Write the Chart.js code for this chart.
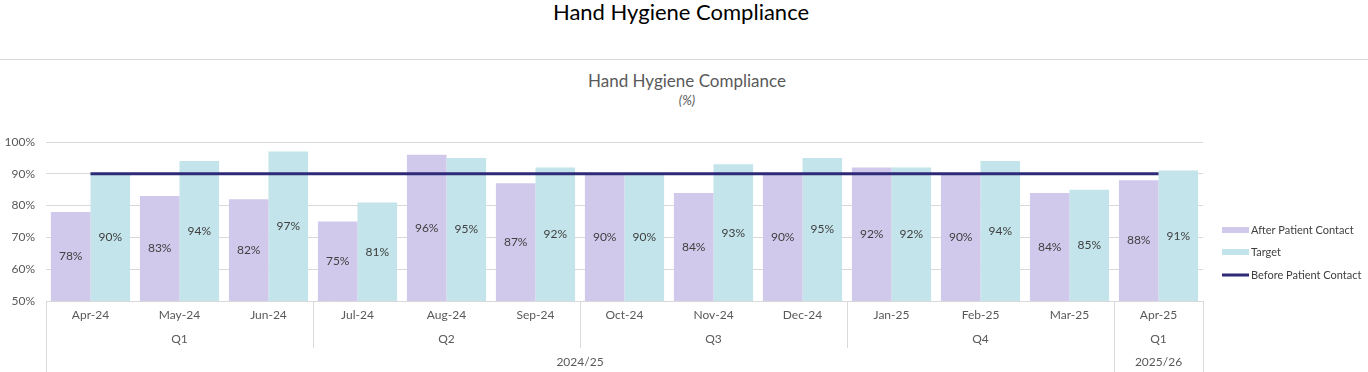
<!DOCTYPE html>
<html>
<head>
<meta charset="utf-8">
<script src="https://cdn.jsdelivr.net/npm/chart.js@4.4.1/dist/chart.umd.min.js"></script>
<style>
  html, body { margin: 0; padding: 0; background: #fff; }
  body { width: 1368px; height: 372px; position: relative; overflow: hidden; font-family: Lato, "Open Sans", sans-serif; }
  #pageTitle { position: absolute; top: -2px; left: 0; width: 1362px; text-align: center; font-size: 22px; color: #000; }
  #rule { position: absolute; top: 59px; left: 0; width: 1368px; height: 1px; background: #d9d9d9; }
  #chartTitle { position: absolute; top: 70px; left: 0; width: 1374px; text-align: center; font-size: 17px; color: #595959; }
  #chartSub { position: absolute; top: 92px; left: 0; width: 1374px; text-align: center; font-size: 13px; font-style: italic; color: #595959; }
  canvas { position: absolute; top: 0; left: 0; }
</style>
</head>
<body>
<div id="pageTitle">Hand Hygiene Compliance</div>
<div id="rule"></div>
<div id="chartTitle">Hand Hygiene Compliance</div>
<div id="chartSub">(%)</div>
<canvas id="hhChart" width="1368" height="372"></canvas>
<script>
const months = ['Apr-24', 'May-24', 'Jun-24', 'Jul-24', 'Aug-24', 'Sep-24', 'Oct-24', 'Nov-24', 'Dec-24', 'Jan-25', 'Feb-25', 'Mar-25', 'Apr-25'];
const quarters = ['Q1', 'Q1', 'Q1', 'Q2', 'Q2', 'Q2', 'Q3', 'Q3', 'Q3', 'Q4', 'Q4', 'Q4', 'Q1'];
const years = ['2024/25', '2024/25', '2024/25', '2024/25', '2024/25', '2024/25', '2024/25', '2024/25', '2024/25', '2024/25', '2024/25', '2024/25', '2025/26'];

const afterContact = [78, 83, 82, 75, 96, 87, 90, 84, 90, 92, 90, 84, 88];
const target = [90, 94, 97, 81, 95, 92, 90, 93, 95, 92, 94, 85, 91];
const beforeContact = [90, 90, 90, 90, 90, 90, 90, 90, 90, 90, 90, 90, 90];

const yTicks = [50, 60, 70, 80, 90, 100];

const FONT = 'Lato, "Open Sans", sans-serif';
const GREY = '#595959';
const LINE = '#d9d9d9';

// consecutive runs of equal labels -> [{label, start, end}]
function runs(arr) {
  const out = [];
  arr.forEach((v, i) => {
    const last = out[out.length - 1];
    if (last && last.label === v && (years[i] === years[last.end])) last.end = i;
    else out.push({ label: v, start: i, end: i });
  });
  return out;
}

const extraAxis = {
  id: 'extraAxis',
  afterDraw(chart) {
    const ctx = chart.ctx;
    const xs = chart.scales.x;
    const area = chart.chartArea;
    const half = (xs.getPixelForValue(1) - xs.getPixelForValue(0)) / 2;
    const qRowY = area.bottom + 38;
    const yRowY = area.bottom + 61;
    const qSepEnd = area.bottom + 47;
    const bottom = chart.height;

    ctx.save();
    ctx.strokeStyle = LINE;
    ctx.lineWidth = 1;
    ctx.fillStyle = GREY;
    ctx.font = '12px ' + FONT;
    ctx.textAlign = 'center';
    ctx.textBaseline = 'middle';

    const vline = (x, y1, y2) => {
      ctx.beginPath();
      ctx.moveTo(Math.round(x) + 0.5, y1);
      ctx.lineTo(Math.round(x) + 0.5, y2);
      ctx.stroke();
    };

    runs(quarters).forEach(r => {
      const x1 = xs.getPixelForValue(r.start) - half;
      const x2 = xs.getPixelForValue(r.end) + half;
      vline(x1, area.bottom, qSepEnd);
      vline(x2, area.bottom, qSepEnd);
      ctx.fillText(r.label, (x1 + x2) / 2, qRowY);
    });
    runs(years).forEach(r => {
      const x1 = xs.getPixelForValue(r.start) - half;
      const x2 = xs.getPixelForValue(r.end) + half;
      vline(x1, area.bottom, bottom);
      vline(x2, area.bottom, bottom);
      ctx.fillText(r.label, (x1 + x2) / 2, yRowY);
    });

    // value labels in bar centres
    ctx.fillStyle = '#404040';
    chart.data.datasets.forEach((ds, di) => {
      if (ds.type === 'line') return;
      chart.getDatasetMeta(di).data.forEach((bar, i) => {
        const base = Math.min(bar.base, area.bottom);
        ctx.fillText(ds.data[i] + '%', bar.x, (bar.y + base) / 2);
      });
    });

    // legend
    const lx = 1222, tx = 1251;
    const items = [
      { text: 'After Patient Contact', color: '#d1c9ec', y: 230, h: 6 },
      { text: 'Target', color: '#c2e4ea', y: 252, h: 6 },
      { text: 'Before Patient Contact', color: '#2e2a78', y: 275, h: 3 }
    ];
    ctx.textAlign = 'left';
    ctx.font = '11px ' + FONT;
    items.forEach(it => {
      ctx.fillStyle = it.color;
      ctx.fillRect(lx, it.y - it.h / 2, 27, it.h);
      ctx.fillStyle = '#404040';
      ctx.fillText(it.text, tx, it.y);
    });
    ctx.restore();
  }
};

new Chart(document.getElementById('hhChart'), {
  data: {
    labels: months,
    datasets: [
      {
        type: 'line',
        label: 'Before Patient Contact',
        data: beforeContact,
        borderColor: '#2e2a78',
        borderWidth: 3,
        pointRadius: 0,
        order: 0
      },
      {
        type: 'bar',
        label: 'After Patient Contact',
        data: afterContact,
        backgroundColor: '#d1c9ec',
        categoryPercentage: 0.89,
        barPercentage: 1,
        order: 1
      },
      {
        type: 'bar',
        label: 'Target',
        data: target,
        backgroundColor: '#c2e4ea',
        categoryPercentage: 0.89,
        barPercentage: 1,
        order: 1
      }
    ]
  },
  options: {
    responsive: false,
    animation: false,
    layout: { padding: { top: 142, right: 165, left: 0, bottom: 0 } },
    plugins: {
      legend: { display: false },
      title: { display: false },
      tooltip: { enabled: false }
    },
    scales: {
      x: {
        offset: true,
        grid: { display: false, drawTicks: false },
        border: { display: false },
        ticks: { color: GREY, font: { family: FONT, size: 12 }, padding: 7, maxRotation: 0 },
        afterFit(s) { s.height = 71; }
      },
      y: {
        min: 50,
        max: 100,
        afterBuildTicks(s) { s.ticks = yTicks.map(v => ({ value: v })); },
        grid: { color: LINE, drawTicks: false },
        border: { display: false },
        ticks: { color: GREY, font: { family: FONT, size: 12 }, padding: 11, callback: v => v + '%' },
        afterFit(s) { s.width = 46; }
      }
    }
  },
  plugins: [extraAxis]
});
</script>
</body>
</html>
